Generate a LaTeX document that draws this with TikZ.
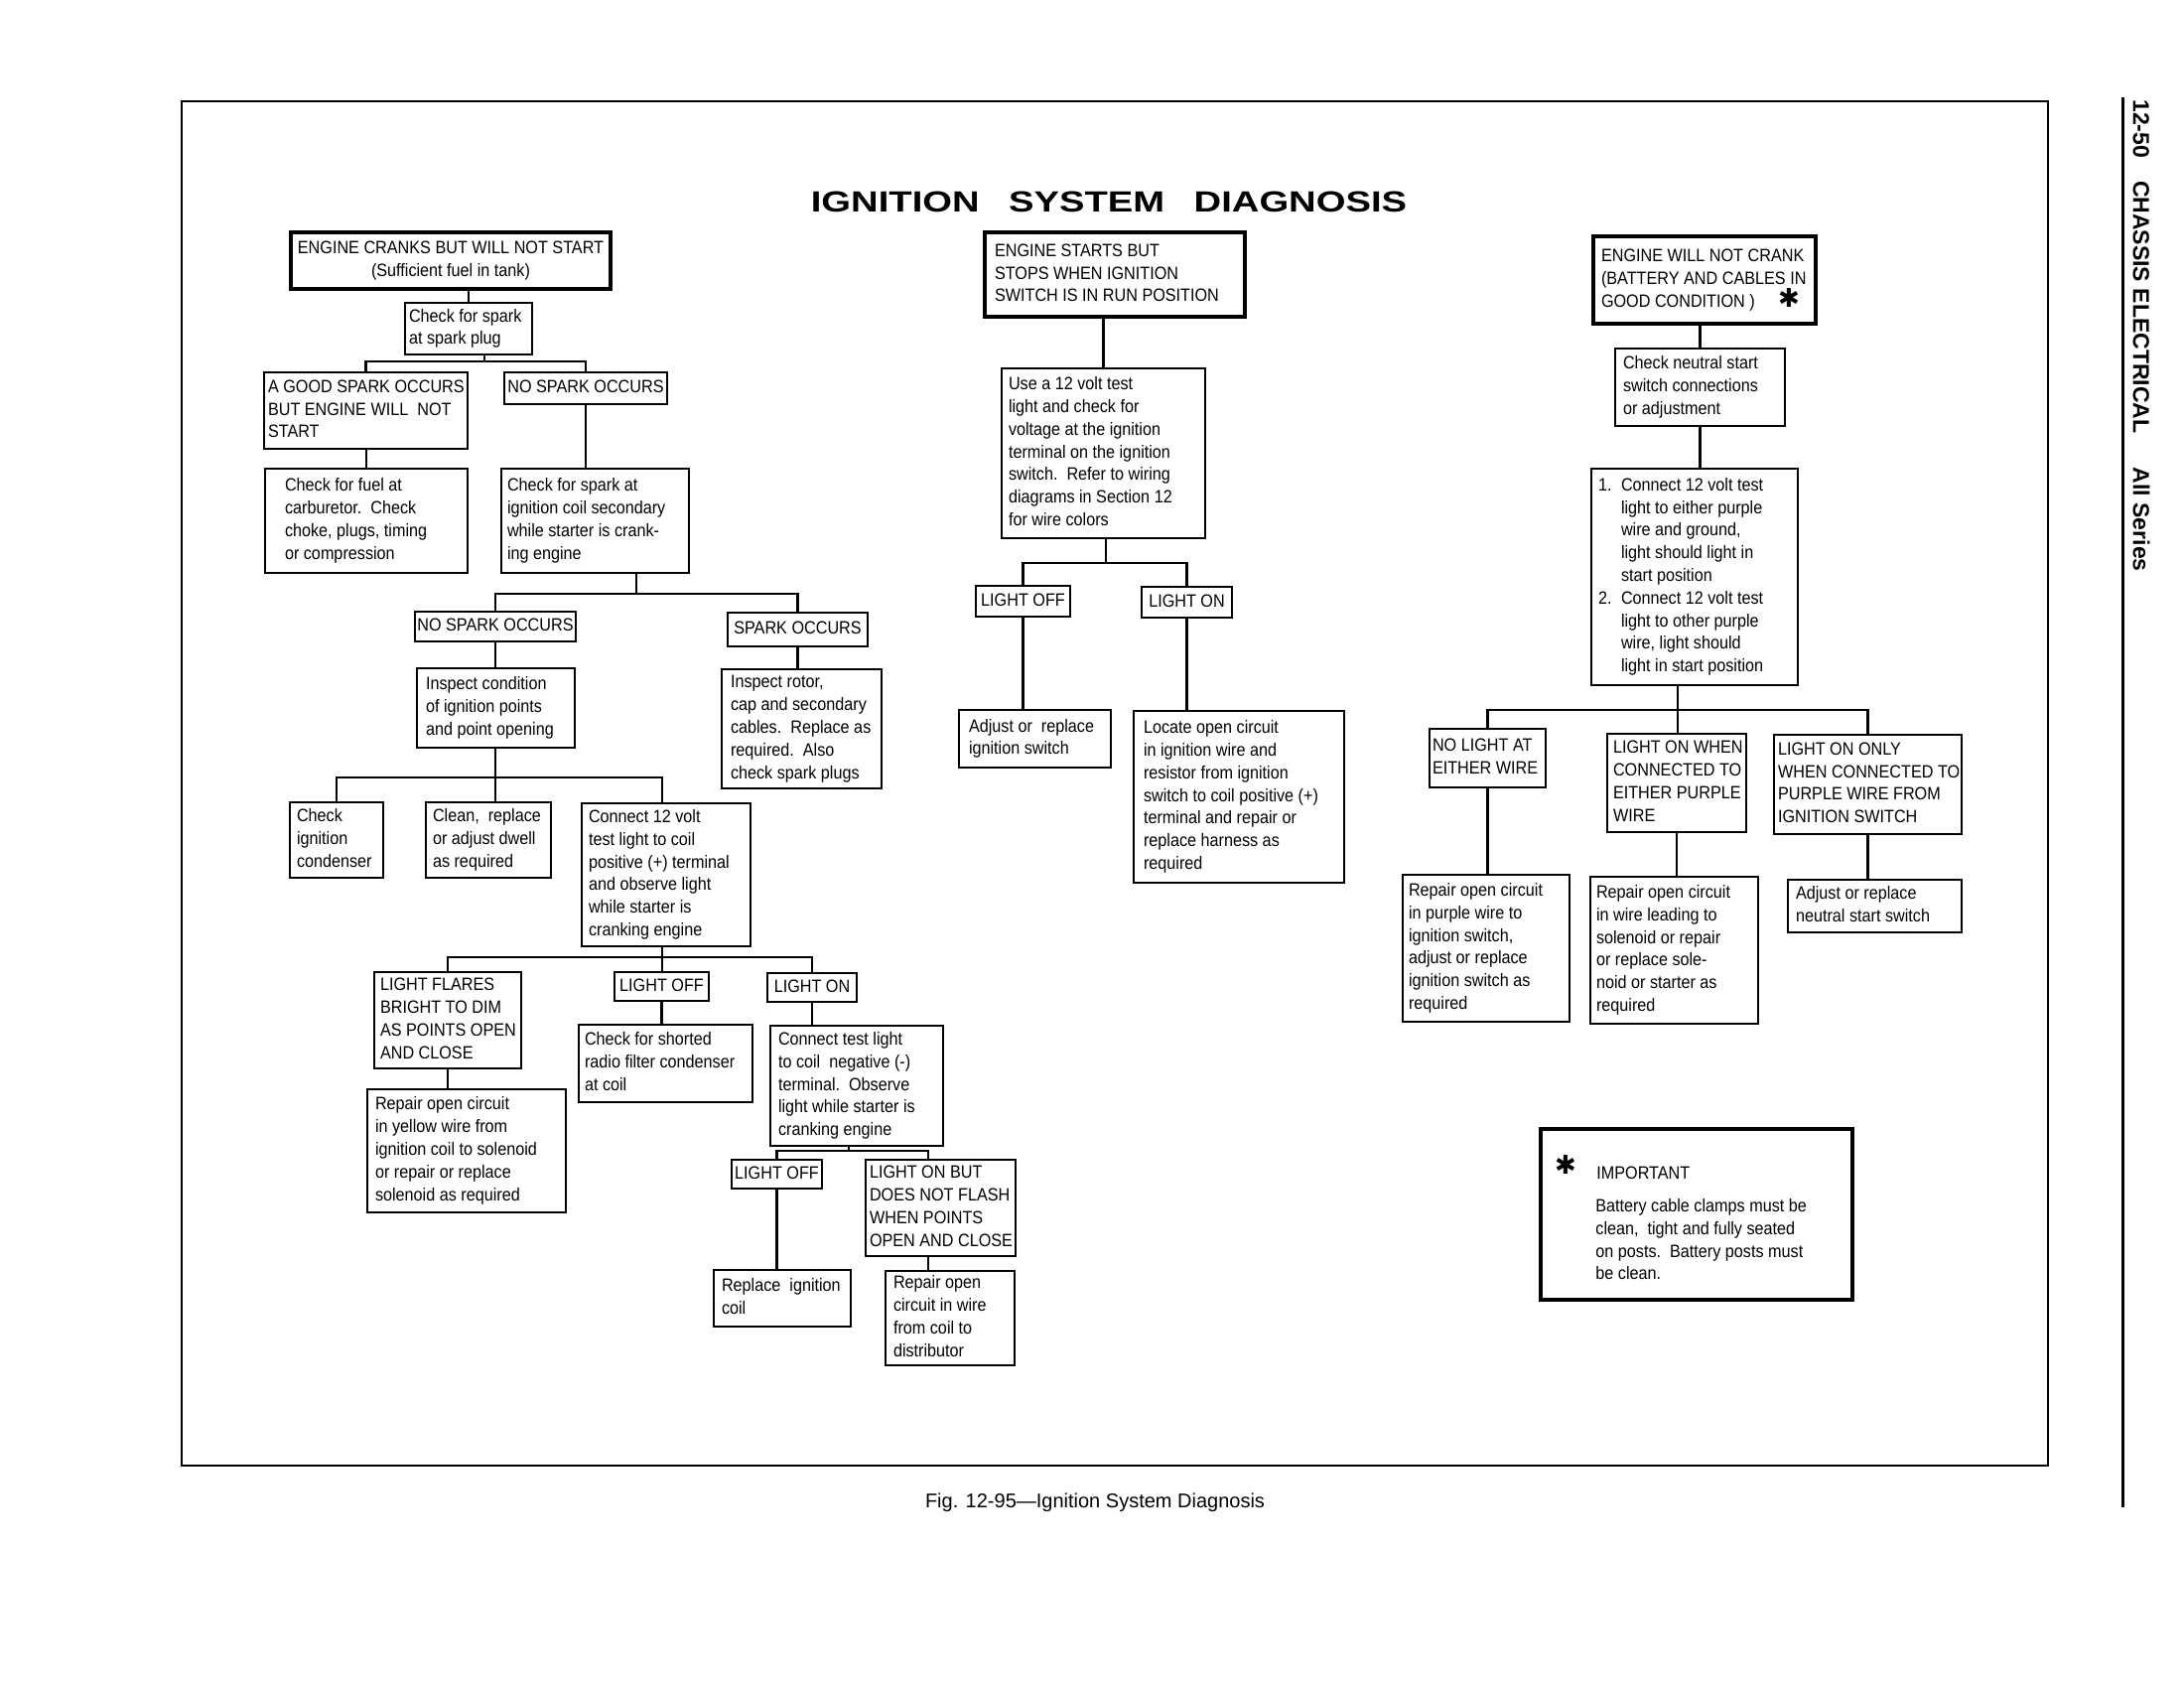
\documentclass[tikz,border=0pt]{standalone}
\usepackage{fontspec}
\setmainfont[FakeStretch=0.9]{Liberation Sans}
\newfontfamily\symf{DejaVu Sans}
\newfontfamily\titlef[FakeStretch=1.3]{Liberation Sans}
\newfontfamily\capf{Liberation Sans}
\newcommand\bxfont{\fontsize{9}{11.4}\selectfont}
\tikzset{
  box/.style={draw, line width=1pt, inner ysep=0pt, font=\bxfont},
  tbox/.style={box, line width=2.3pt},
  conn/.style={line width=1.3pt},
}
% #1 style, #2 name, #3 align (l/c), #4 xsep (pt), #5 x1, #6 y1, #7 x2, #8 y2, #9 text
\newcommand\bx[9][box]{%
  \pgfmathsetmacro\bw{(#7-#5)*0.5}%
  \pgfmathsetmacro\bh{(#8-#6)*0.5}%
  \pgfmathsetmacro\tw{(#7-#5)*0.5-2*#4}%
  \node[#1, inner xsep=#4pt, minimum width=\bw pt, minimum height=\bh pt]
    (#2) at ({(#5+#7)/2},{(#6+#8)/2})
    {\makebox[\tw pt][#3]{\begin{tabular}{@{}#3@{}}#9\end{tabular}}};}
\begin{document}
\begin{tikzpicture}[x=0.5pt, y=-0.5pt]
\useasboundingbox (0,0) rectangle (2200,1700);
% frame and side rule
\draw[line width=1pt] (183,102) rectangle (2063,1476);
\draw[line width=1.5pt] (2138,98) -- (2138,1518);
\node[font=\capf\bfseries\fontsize{11.5}{12}\selectfont, rotate=-90] (side) at (2157,338)
  {12-50\hspace{1em}CHASSIS ELECTRICAL\hspace{1.5em}All Series};
\node[font=\titlef\bfseries\fontsize{14.7}{16}\selectfont] (title) at (1117,203)
  {IGNITION\hspace{1em}SYSTEM\hspace{1em}DIAGNOSIS};
\node[font=\capf\fontsize{10}{12}\selectfont] (caption) at (1103,1513)
  {Fig. 12-95—Ignition System Diagnosis};

% ---------------- left tree
\bx[tbox]{cranks}{c}{2}{293}{234}{615}{291}{ENGINE CRANKS BUT WILL NOT START\\(Sufficient fuel in tank)}
\bx{sp}{l}{2}{408}{305}{536}{357}{Check for spark\\at spark plug}
\bx{goodspark}{l}{2}{266}{375}{471}{452}{A GOOD SPARK OCCURS\\BUT ENGINE WILL\ \ NOT\\START}
\bx{nospark1}{c}{1}{508}{375}{672}{407}{NO SPARK OCCURS}
\bx{fuel}{l}{10}{267}{472}{471}{577}{Check for fuel at\\carburetor.\ \ Check\\choke, plugs, timing\\or compression}
\bx{coilsec}{l}{3}{505}{472}{694}{577}{Check for spark at\\ignition coil secondary\\while starter is crank-\\ing engine}
\bx{nospark2}{c}{1}{418}{616}{580}{646}{NO SPARK OCCURS}
\bx{sparkocc}{c}{2}{733}{617}{874}{651}{SPARK OCCURS}
\bx{inspcond}{l}{4.5}{420}{673}{579}{753}{Inspect condition\\of ignition points\\and point opening}
\bx{insprotor}{l}{4.5}{727}{674}{888}{794}{Inspect rotor,\\cap and secondary\\cables.\ \ Replace as\\required.\ \ Also\\check spark plugs}
\bx{condenser}{l}{3.5}{292}{808}{386}{884}{Check\\ignition\\condenser}
\bx{clean}{l}{3.5}{429}{808}{555}{884}{Clean,\ \ replace\\or adjust dwell\\as required}
\bx{connect12}{l}{3.5}{586}{809}{756}{953}{Connect 12 volt\\test light to coil\\positive (+) terminal\\and observe light\\while starter is\\cranking engine}
\bx{flares}{l}{3}{377}{979}{525}{1076}{LIGHT FLARES\\BRIGHT TO DIM\\AS POINTS OPEN\\AND CLOSE}
\bx{lightoff1}{c}{2}{619}{979}{714}{1008}{LIGHT OFF}
\bx{lighton1}{c}{2}{773}{980}{863}{1009}{LIGHT ON}
\bx{yellow}{l}{4}{370}{1097}{570}{1221}{Repair open circuit\\in yellow wire from\\ignition coil to solenoid\\or repair or replace\\solenoid as required}
\bx{shorted}{l}{3}{583}{1032}{758}{1110}{Check for shorted\\radio filter condenser\\at coil}
\bx{negcoil}{l}{4}{776}{1033}{950}{1154}{Connect test light\\to coil\ \ negative (-)\\terminal.\ \ Observe\\light while starter is\\cranking engine}
\bx{lightoff2}{c}{2}{737}{1168}{828}{1197}{LIGHT OFF}
\bx{lightonbut}{l}{2}{872}{1168}{1023}{1265}{LIGHT ON BUT\\DOES NOT FLASH\\WHEN POINTS\\OPEN AND CLOSE}
\bx{replacecoil}{l}{4}{719}{1279}{857}{1336}{Replace\ \ ignition\\coil}
\bx{repairdist}{l}{4}{892}{1280}{1022}{1375}{Repair open\\circuit in wire\\from coil to\\distributor}

\draw[conn] (sp.north) -- (sp.north |- cranks.south);
\coordinate (j1) at (488,364);
\draw[conn] (sp.south -| j1) -- (j1);
\draw[conn] (goodspark.north) |- (j1) -| (nospark1.north);
\draw[conn] (fuel.north) -- (fuel.north |- goodspark.south);
\draw[conn] (nospark1.south) -- (nospark1.south |- coilsec.north);
\coordinate (j2) at (641,598);
\draw[conn] (coilsec.south -| j2) -- (j2);
\draw[conn] (nospark2.north) |- (j2) -| (sparkocc.north);
\draw[conn] (nospark2.south) -- (nospark2.south |- inspcond.north);
\draw[conn] (sparkocc.south) -- (sparkocc.south |- insprotor.north);
\coordinate (j3) at (499,783);
\coordinate (j3r) at (667,783);
\draw[conn] (inspcond.south -| j3) -- (j3) -- (j3 |- clean.north);
\draw[conn] (condenser.north) |- (j3) -- (j3r) -- (j3r |- connect12.north);
\coordinate (j4) at (667,964);
\draw[conn] (connect12.south -| j4) -- (j4) -- (j4 |- lightoff1.north);
\draw[conn] (flares.north) |- (j4) -| (lighton1.north);
\draw[conn] (flares.south) -- (flares.south |- yellow.north);
\draw[conn] (lightoff1.south) -- (lightoff1.south |- shorted.north);
\draw[conn] (lighton1.south) -- (lighton1.south |- negcoil.north);
\coordinate (j5) at (855,1159);
\coordinate (j5r) at (935,1159);
\draw[conn] (negcoil.south -| j5) -- (j5);
\draw[conn] (lightoff2.north) |- (j5) -- (j5r) -- (j5r |- lightonbut.north);
\draw[conn] (lightoff2.south) -- (lightoff2.south |- replacecoil.north);
\draw[conn] (lightonbut.south -| j5r) -- (j5r |- repairdist.north);

% ---------------- middle tree
\bx[tbox]{starts}{l}{5}{992}{234}{1254}{319}{ENGINE STARTS BUT\\STOPS WHEN IGNITION\\SWITCH IS IN RUN POSITION}
\bx{use12}{l}{3.5}{1009}{371}{1214}{542}{Use a 12 volt test\\light and check for\\voltage at the ignition\\terminal on the ignition\\switch.\ \ Refer to wiring\\diagrams in Section 12\\for wire colors}
\bx{lightoff3}{c}{2}{983}{590}{1078}{621}{LIGHT OFF}
\bx{lighton3}{c}{2}{1150}{591}{1241}{622}{LIGHT ON}
\bx{adjign}{l}{5}{966}{715}{1119}{773}{Adjust or\ \ replace\\ignition switch}
\bx{locate}{l}{5}{1142}{716}{1354}{889}{Locate open circuit\\in ignition wire and\\resistor from ignition\\switch to coil positive (+)\\terminal and repair or\\replace harness as\\required}

\draw[conn] (use12.north) -- (use12.north |- starts.south);
\coordinate (j6) at (1114,567);
\draw[conn] (use12.south -| j6) -- (j6);
\draw[conn] (lightoff3.north) |- (j6) -| (lighton3.north);
\draw[conn] (lightoff3.south) -- (lightoff3.south |- adjign.north);
\draw[conn] (lighton3.south) -- (lighton3.south |- locate.north);

% ---------------- right tree
\bx[tbox]{nocrank}{l}{4}{1605}{238}{1829}{326}{ENGINE WILL NOT CRANK\\(BATTERY AND CABLES IN\\GOOD CONDITION )\hspace{1.3em}\smash{\symf\fontsize{13}{13}\selectfont ✱}}
\bx{neutral}{l}{4}{1627}{351}{1798}{429}{Check neutral start\\switch connections\\or adjustment}
\bx{connect12b}{l}{3.5}{1603}{472}{1811}{690}{\makebox[11.5pt][l]{1.}Connect 12 volt test\\\hspace*{11.5pt}light to either purple\\\hspace*{11.5pt}wire and ground,\\\hspace*{11.5pt}light should light in\\\hspace*{11.5pt}start position\\\makebox[11.5pt][l]{2.}Connect 12 volt test\\\hspace*{11.5pt}light to other purple\\\hspace*{11.5pt}wire,\ light should\\\hspace*{11.5pt}light in start position}
\bx{nolight}{l}{1.5}{1440}{734}{1557}{793}{NO LIGHT AT\\EITHER WIRE}
\bx{lightonwhen}{l}{3}{1619}{739}{1759}{838}{LIGHT ON WHEN\\CONNECTED TO\\EITHER PURPLE\\WIRE}
\bx{lightononly}{l}{2}{1787}{740}{1976}{840}{LIGHT ON ONLY\\WHEN CONNECTED TO\\PURPLE WIRE FROM\\IGNITION SWITCH}
\bx{repairpurple}{l}{3}{1413}{881}{1581}{1029}{Repair open circuit\\in purple wire to\\ignition switch,\\adjust or replace\\ignition switch as\\required}
\bx{repairlead}{l}{3}{1602}{883}{1771}{1031}{Repair open circuit\\in wire leading to\\solenoid or repair\\or replace sole-\\noid or starter as\\required}
\bx{adjneutral}{l}{4}{1801}{886}{1976}{939}{Adjust or replace\\neutral start switch}

\draw[conn] (neutral.north) -- (neutral.north |- nocrank.south);
\draw[conn] (neutral.south) -- (neutral.south |- connect12b.north);
\coordinate (j7) at (1690,715);
\draw[conn] (connect12b.south -| j7) -- (j7) -- (j7 |- lightonwhen.north);
\draw[conn] (nolight.north) |- (j7) -| (lightononly.north);
\draw[conn] (nolight.south) -- (nolight.south |- repairpurple.north);
\draw[conn] (lightonwhen.south) -- (lightonwhen.south |- repairlead.north);
\draw[conn] (lightononly.south) -- (lightononly.south |- adjneutral.north);

% ---------------- important note
\bx[tbox]{imp}{l}{2}{1552}{1137}{1866}{1309}{}
\node[font=\symf\fontsize{13}{13}\selectfont, inner sep=0pt] (impast) at (1577,1173) {✱};
\node[font=\bxfont, anchor=west, inner sep=0pt] (imptitle) at (1608,1181) {IMPORTANT};
\node[font=\bxfont, anchor=north west, inner sep=0pt, align=left] (impbody) at (1607,1207)
  {Battery cable clamps must be\\clean,\ \ tight and fully seated\\on posts.\ \ Battery posts must\\be clean.};
\end{tikzpicture}
\end{document}
